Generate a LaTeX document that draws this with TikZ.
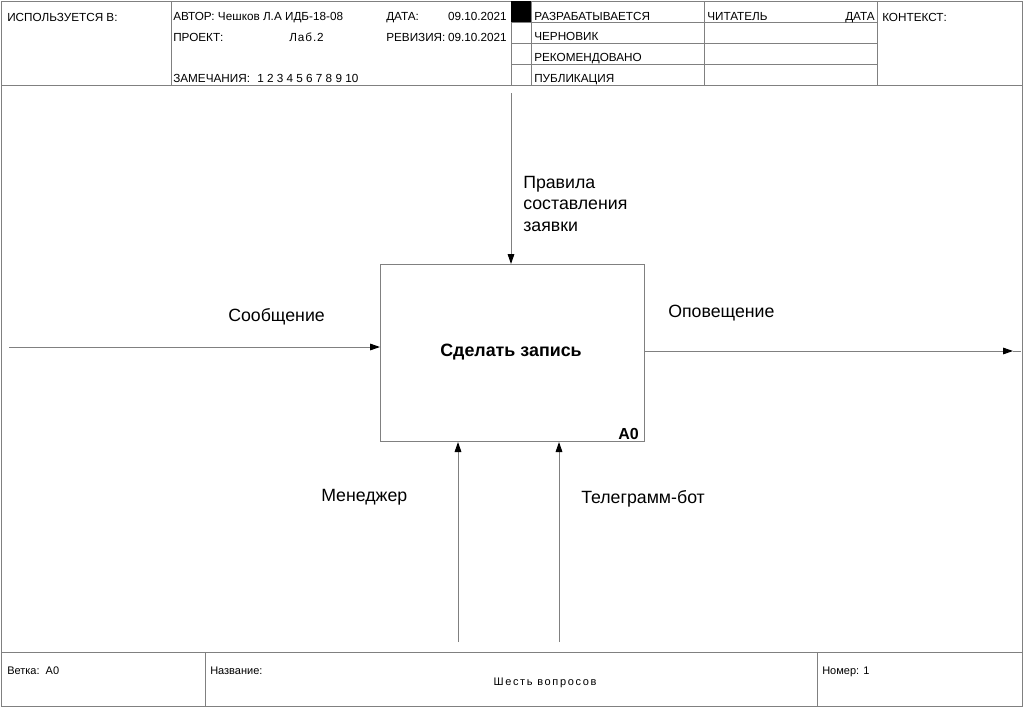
\documentclass[tikz,border=0pt]{standalone}
\usepackage{fontspec}
\setmainfont{Liberation Sans}
\newfontfamily\spacedfont[LetterSpace=15]{Liberation Sans}
\newfontfamily\slightfont[LetterSpace=8]{Liberation Sans}
\usetikzlibrary{arrows.meta}
\definecolor{linegray}{RGB}{128,128,128}
\tikzset{
  frameline/.style={draw=linegray, line width=0.75pt},
  arr/.style={draw=linegray, line width=0.75pt, -{Triangle[length=7.5pt,width=5pt,fill=black,color=black]}},
  hdr/.style={anchor=base west, inner sep=0pt, font=\fontsize{8.8}{11}\selectfont},
  hdrR/.style={anchor=base east, inner sep=0pt, font=\fontsize{8.8}{11}\selectfont},
  ftr/.style={anchor=base west, inner sep=0pt, font=\fontsize{8.25}{10}\selectfont},
  lbl/.style={anchor=base west, inner sep=0pt, align=left, font=\fontsize{13.3}{16.1}\selectfont},
  funcbox/.style={draw=linegray, line width=0.75pt, minimum width=198pt, minimum height=132.75pt, anchor=north west, inner sep=0pt}
}
\begin{document}
\begin{tikzpicture}[x=0.75pt,y=-0.75pt]
\useasboundingbox (0,0) rectangle (1023,707);
% outer frame
\draw[frameline] (1,1) rectangle (1022,706);
\draw[frameline] (1,85) -- (1022,85);
\draw[frameline] (1,652) -- (1022,652);
% header verticals
\foreach \xx in {171,511,531,704,877} \draw[frameline] (\xx,1) -- (\xx,85);
\foreach \yy in {22,43,64} \draw[frameline] (511,\yy) -- (877,\yy);
\fill[black] (511,1) rectangle (531,22);
% footer verticals
\draw[frameline] (205,652) -- (205,706);
\draw[frameline] (817,652) -- (817,706);
% header text
\node[hdr] (used) at (7,21) {ИСПОЛЬЗУЕТСЯ В:};
\node[hdr] (author) at (173,20) {АВТОР: Чешков Л.А ИДБ-18-08};
\node[hdr] (date) at (386,20) {ДАТА:};
\node[hdrR] (dateval) at (507,20) {09.10.2021};
\node[hdr] (project) at (173,41) {ПРОЕКТ:};
\node[hdr] (projval) at (289,41) {\slightfont Лаб.2};
\node[hdr] (rev) at (386,41) {РЕВИЗИЯ:};
\node[hdrR] (revval) at (507,41) {09.10.2021};
\node[hdr] (notes) at (173,82) {ЗАМЕЧАНИЯ:};
\node[hdr] (nums) at (257,82) {1 2 3 4 5 6 7 8 9 10};
\node[hdr] (s1) at (534,20) {РАЗРАБАТЫВАЕТСЯ};
\node[hdr] (s2) at (534,40) {ЧЕРНОВИК};
\node[hdr] (s3) at (534,61) {РЕКОМЕНДОВАНО};
\node[hdr] (s4) at (534,82) {ПУБЛИКАЦИЯ};
\node[hdr] (reader) at (707,20) {ЧИТАТЕЛЬ};
\node[hdrR] (rdate) at (875,20) {ДАТА};
\node[hdr] (context) at (882,21) {КОНТЕКСТ:};
% footer text
\node[ftr] (node) at (7,674) {Ветка:\ \ A0};
\node[ftr] (title) at (210,674) {Название:};
\node[ftr, anchor=base] (titleval) at (545,685) {\spacedfont Шесть вопросов};
\node[ftr] (number) at (822,674) {Номер: 1};
% function box
\node[funcbox] (box) at (380,264) {};
\node[anchor=base, inner sep=0pt, font=\fontsize{13.4}{15}\selectfont\bfseries] (boxtext) at (511,356) {Сделать запись};
\node[anchor=base east, inner sep=0pt, font=\fontsize{12}{14}\selectfont\bfseries] (boxnum) at (639,439) {A0};
% arrows
\coordinate (inL) at (9,347);
\draw[arr] (inL) -- (inL -| box.west);
\coordinate (outE) at (1021,351);
\coordinate (outT) at (1013,351);
\draw[arr] (outT -| box.east) -- (outT);
\draw[frameline] (outT) -- (outE);
\coordinate (ctlT) at (511,93);
\draw[arr] (ctlT) -- (ctlT |- box.north);
\coordinate (m1) at (458,642);
\coordinate (m2) at (559,642);
\draw[arr] (m1) -- (m1 |- box.south);
\draw[arr] (m2) -- (m2 |- box.south);
% labels
\node[lbl] (ctllbl) at (523,231) {Правила\\составления\\заявки};
\node[lbl] (outlbl) at (668,317) {Оповещение};
\node[lbl] (inlbl) at (228,321) {Сообщение};
\node[lbl] (m1lbl) at (321,501) {Менеджер};
\node[lbl] (m2lbl) at (581,503) {Телеграмм-бот};
\end{tikzpicture}
\end{document}
